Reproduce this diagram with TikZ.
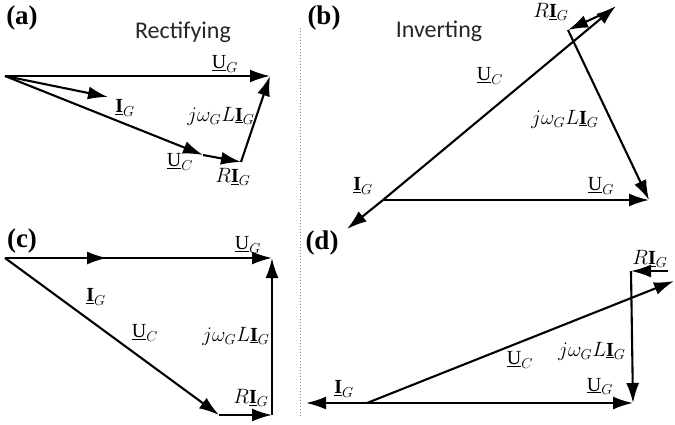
\documentclass[tikz,border=0pt]{standalone}
\usepackage{fontspec}
\setmainfont{Carlito}
\newfontfamily\letrafont{Liberation Serif}
\usetikzlibrary{arrows.meta}
\tikzset{
  fasor/.style={-{Latex[length=20pt, width=13pt]}, line width=2.1pt, black},
  etiqueta/.style={font=\fontsize{20}{22}\selectfont, inner sep=0pt},
  panel/.style={font=\letrafont\bfseries\fontsize{27}{29}\selectfont, inner sep=0pt},
  modo/.style={font=\fontsize{24}{26}\selectfont, text=black!85, inner sep=0pt},
  divisor/.style={dotted, line width=1pt, black!45},
}
\newcommand{\UG}{\underline{\letrafont U}$_{G}$}
\newcommand{\UC}{\underline{\letrafont U}$_{C}$}
\newcommand{\IG}{\underline{\letrafont\bfseries I}$_{G}$}
\newcommand{\RI}{$R$\underline{\letrafont\bfseries I}$_{G}$}
\newcommand{\jLI}{$j\omega_{G} L$\underline{\letrafont\bfseries I}$_{G}$}
\begin{document}
\begin{tikzpicture}[x=1pt, y=-1pt]
  \useasboundingbox (0,0) rectangle (675,424);
  % separador
  \coordinate (sepA) at (300,28);
  \coordinate (sepB) at (300,416);
  \draw[divisor] (sepA) -- (sepB);

  % (a) rectificador
  \node[panel] (la) at (22,18) {(a)};
  \node[modo] (ma) at (183,32) {Rectifying};
  \coordinate (oA) at (5,76);
  \coordinate (ugA) at (270,76);
  \coordinate (igA) at (108,97);
  \coordinate (ucA) at (203,155);
  \coordinate (riA) at (241,162);
  \draw[fasor] (oA) -- (ugA);
  \draw[fasor] (oA) -- (igA);
  \draw[fasor] (oA) -- (ucA);
  \draw[fasor] (ucA) -- (riA);
  \draw[fasor] (riA) -- (ugA);
  \node[etiqueta] at (225,64) {\UG};
  \node[etiqueta] at (125,108) {\IG};
  \node[etiqueta] at (221,116) {\jLI};
  \node[etiqueta] at (180,162) {\UC};
  \node[etiqueta] at (233,177) {\RI};

  % (b) inversor
  \node[panel] (lb) at (324,18) {(b)};
  \node[modo] (mb) at (439,31) {Inverting};
  \coordinate (oB) at (383,200);
  \coordinate (ugB) at (649,200);
  \coordinate (igB) at (347,229);
  \coordinate (ucB) at (616,6);
  \coordinate (riBi) at (607,12);
  \coordinate (riB) at (568,30);
  \draw[fasor] (oB) -- (ugB);
  \draw[fasor] (oB) -- (igB);
  \draw[fasor] (oB) -- (ucB);
  \draw[fasor] (riBi) -- (riB);
  \draw[fasor] (riB) -- (ugB);
  \node[etiqueta] at (551,12) {\RI};
  \node[etiqueta] at (490,76) {\UC};
  \node[etiqueta] at (565,119) {\jLI};
  \node[etiqueta] at (363,186) {\IG};
  \node[etiqueta] at (601,186) {\UG};

  % (c)
  \node[panel] (lc) at (22,241) {(c)};
  \coordinate (oC) at (5,258);
  \coordinate (ugC) at (272,258);
  \coordinate (igC) at (107,258);
  \coordinate (ucC) at (219,415);
  \coordinate (riC) at (272,415);
  \draw[fasor] (oC) -- (ugC);
  \draw[fasor] (oC) -- (igC);
  \draw[fasor] (oC) -- (ucC);
  \draw[fasor] (ucC) -- (riC);
  \draw[fasor] (riC) -- (ugC);
  \node[etiqueta] at (248,245) {\UG};
  \node[etiqueta] at (96,297) {\IG};
  \node[etiqueta] at (145,333) {\UC};
  \node[etiqueta] at (236,336) {\jLI};
  \node[etiqueta] at (251,398) {\RI};

  % (d)
  \node[panel] (ld) at (322,243) {(d)};
  \coordinate (oD) at (367,403);
  \coordinate (ugD) at (633,403);
  \coordinate (igD) at (306,403);
  \coordinate (ucD) at (674,281);
  \coordinate (riDi) at (668,271);
  \coordinate (riD) at (631,271);
  \draw[fasor] (oD) -- (ugD);
  \draw[fasor] (oD) -- (igD);
  \draw[fasor] (oD) -- (ucD);
  \draw[fasor] (riDi) -- (riD);
  \draw[fasor] (riD) -- (ugD);
  \node[etiqueta] at (650,259) {\RI};
  \node[etiqueta] at (592,351) {\jLI};
  \node[etiqueta] at (520,360) {\UC};
  \node[etiqueta] at (600,386) {\UG};
  \node[etiqueta] at (344,389) {\IG};
\end{tikzpicture}
\end{document}
